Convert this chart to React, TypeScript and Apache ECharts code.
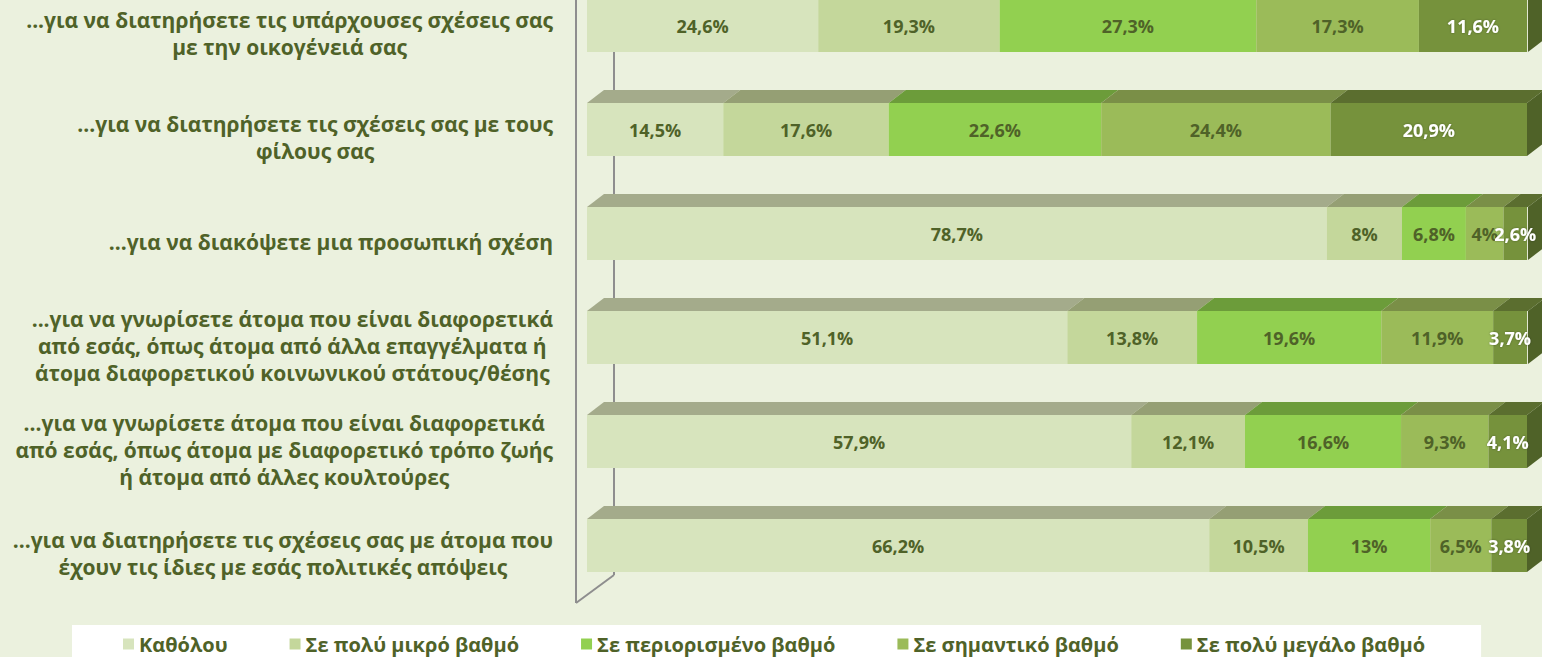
import React, { useEffect, useRef } from "react";
import * as echarts from "echarts";

const categories = [
  "...για να διατηρήσετε τις υπάρχουσες σχέσεις σας\nμε την οικογένειά σας",
  "...για να διατηρήσετε τις σχέσεις σας με τους\nφίλους σας",
  "...για να διακόψετε μια προσωπική σχέση",
  "...για να γνωρίσετε άτομα που είναι διαφορετικά\nαπό εσάς, όπως άτομα από άλλα επαγγέλματα ή\nάτομα διαφορετικού κοινωνικού στάτους/θέσης",
  "...για να γνωρίσετε άτομα που είναι διαφορετικά\nαπό εσάς, όπως άτομα με διαφορετικό τρόπο ζωής\nή άτομα από άλλες κουλτούρες",
  "...για να διατηρήσετε τις σχέσεις σας με άτομα που\nέχουν τις ίδιες με εσάς πολιτικές απόψεις",
];

const seriesNames = [
  "Καθόλου",
  "Σε πολύ μικρό βαθμό",
  "Σε περιορισμένο βαθμό",
  "Σε σημαντικό βαθμό",
  "Σε πολύ μεγάλο βαθμό",
];

const katholou = [24.6, 14.5, 78.7, 51.1, 57.9, 66.2];
const polyMikro = [19.3, 17.6, 8, 13.8, 12.1, 10.5];
const periorismeno = [27.3, 22.6, 6.8, 19.6, 16.6, 13];
const simantiko = [17.3, 24.4, 4, 11.9, 9.3, 6.5];
const polyMegalo = [11.6, 20.9, 2.6, 3.7, 4.1, 3.8];

const seriesValues = [katholou, polyMikro, periorismeno, simantiko, polyMegalo];

const frontColors = ["#d7e4bd", "#c4d79b", "#92d050", "#9bbb59", "#76923c"];
const topColors = ["#a4ab8b", "#959f74", "#6c9c3a", "#7a8f47", "#5b6e2f"];
const sideColor = "#4f6228";
const labelColors = ["#4f6228", "#4f6228", "#4f6228", "#4f6228", "#ffffff"];

const W = 1542;
const H = 657;
const OFF = 27; // chart canvas extends above the page top (the reference is cropped there)
const BAR_W = 53;
const DX = 17;
const DY = 13;
const TEXT = "#4f6228";
const FONT = "'Open Sans', 'DejaVu Sans', sans-serif";

export default function App() {
  const ref = useRef<HTMLDivElement>(null);

  useEffect(() => {
    document.body.style.margin = "0";
    if (!ref.current) return;
    const chart = echarts.init(ref.current, undefined, { renderer: "svg" });

    // 3D faces data: [categoryIndex, start, end, segmentIndex]
    const faces: number[][] = [];
    categories.forEach((_, ci) => {
      let acc = 0;
      seriesValues.forEach((vals, si) => {
        faces.push([ci, acc, acc + vals[ci], si]);
        acc += vals[ci];
      });
    });

    const fmt = (p: any) => String(p.value).replace(".", ",") + "%";

    const barSeries = seriesValues.map((vals, si) => ({
      type: "bar",
      name: seriesNames[si],
      stack: "total",
      barWidth: BAR_W,
      data: vals,
      itemStyle: { color: frontColors[si] },
      label: {
        show: true,
        position: "inside",
        formatter: fmt,
        color: labelColors[si],
        fontSize: 18,
        fontWeight: "bold",
        fontFamily: FONT,
        textBorderWidth: 0,
        textShadowColor: si === 4 ? "rgba(0,0,0,0.35)" : "transparent",
        textShadowBlur: si === 4 ? 2 : 0,
      },
      z: 3,
    }));

    const lineStyle = { stroke: "#8e8e8e", lineWidth: 2 };

    const option: any = {
      animation: false,
      backgroundColor: "#ebf1de",
      grid: { left: 587, right: 15, top: 0.5, bottom: 59.5, containLabel: false },
      xAxis: { type: "value", min: 0, max: 100, show: false },
      yAxis: {
        type: "category",
        inverse: true,
        data: categories,
        axisLine: { show: false },
        axisTick: { show: false },
        splitLine: { show: false },
        axisLabel: {
          margin: 34,
          padding: [16, 0, 0, 0],
          formatter: (v: string) =>
            v
              .split("\n")
              .map((l) => `{c|${l}}`)
              .join("\n"),
          rich: {
            c: {
              align: "center",
              fontSize: 21,
              fontWeight: "bold",
              fontFamily: FONT,
              color: TEXT,
              lineHeight: 27,
            },
          },
        },
      },
      legend: {
        data: seriesNames,
        left: 72,
        top: 625 + OFF,
        itemWidth: 11,
        itemHeight: 11,
        itemGap: 62,
        icon: "rect",
        backgroundColor: "#ffffff",
        padding: [9, 56, 20, 51],
        textStyle: { fontSize: 20, fontWeight: "bold", fontFamily: FONT, color: TEXT },
      },
      graphic: [
        { type: "line", z: 0, shape: { x1: 576, y1: 0, x2: 576, y2: 603 + OFF }, style: lineStyle },
        { type: "line", z: 0, shape: { x1: 576, y1: 603 + OFF, x2: 614, y2: 575 + OFF }, style: lineStyle },
        { type: "line", z: 0, shape: { x1: 614, y1: 0, x2: 614, y2: 575 + OFF }, style: lineStyle },
      ],
      series: [
        ...barSeries,
        {
          type: "custom",
          name: "faces",
          data: faces,
          encode: { x: [1, 2], y: 0 },
          z: 2,
          silent: true,
          renderItem: (params: any, api: any) => {
            const ci = api.value(0);
            const s = api.value(1);
            const e = api.value(2);
            const seg = api.value(3);
            const a = api.coord([s, ci]);
            const b = api.coord([e, ci]);
            const yTop = a[1] - BAR_W / 2;
            const yBot = a[1] + BAR_W / 2;
            const children: any[] = [
              {
                type: "polygon",
                shape: {
                  points: [
                    [a[0], yTop],
                    [b[0], yTop],
                    [b[0] + DX, yTop - DY],
                    [a[0] + DX, yTop - DY],
                  ],
                },
                style: { fill: topColors[seg] },
              },
            ];
            if (seg === seriesValues.length - 1) {
              children.push({
                type: "polygon",
                shape: {
                  points: [
                    [b[0], yTop],
                    [b[0] + DX, yTop - DY],
                    [b[0] + DX, yBot - DY],
                    [b[0], yBot],
                  ],
                },
                style: { fill: sideColor },
              });
            }
            return { type: "group", children };
          },
        },
      ],
    };

    chart.setOption(option);
    return () => chart.dispose();
  }, []);

  return (
    <div
      ref={ref}
      style={{ position: "absolute", left: 0, top: -OFF, width: W, height: H + OFF }}
    />
  );
}
